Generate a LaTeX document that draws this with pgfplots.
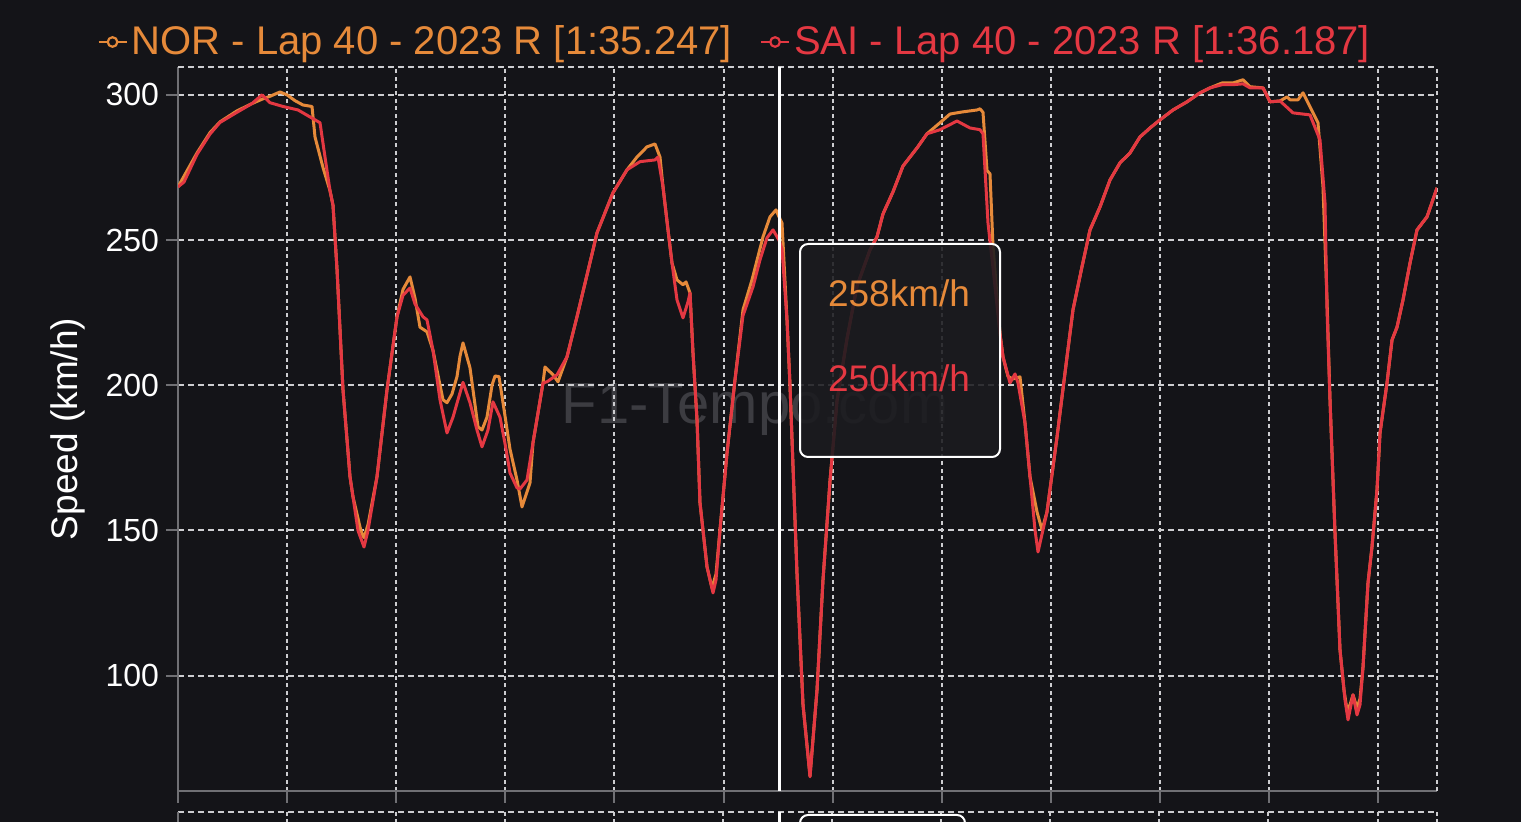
\documentclass[border=0pt]{standalone}
\usepackage{pgfplots}
\pgfplotsset{compat=1.18}
\usepackage{pgfplotstable}
\usepackage{fontspec}
\setmainfont{Liberation Sans}
\definecolor{bg}{RGB}{20,20,24}
\definecolor{tipbg}{RGB}{27,27,31}
\definecolor{norc}{RGB}{230,138,58}
\definecolor{saic}{RGB}{228,56,66}
\definecolor{gridc}{RGB}{205,205,208}
\definecolor{axc}{RGB}{112,112,116}
\definecolor{wm}{RGB}{60,60,65}

\pgfplotstableread{
d v
0 268.3
27.5 272
87.1 280
146.7 287
192.5 290.7
270.4 294.5
339.1 297
385.0 298.5
421.6 299.5
467.5 301
499.5 300
536.2 298
572.9 296.5
614.1 296
627.9 285.5
664.5 275
696.6 267
710.4 262
728.7 240
756.2 198.4
788.3 168.5
802.0 161.6
834.1 151.2
843.3 149
852.4 147.5
870.8 152
912.0 168.5
957.8 198.4
1003.7 223.6
1031.2 233
1063.3 237.3
1086.2 230
1109.1 220
1141.2 218.4
1168.7 212
1214.5 195
1232.8 194
1255.7 197
1278.7 203
1292.4 210
1306.2 214.6
1338.2 206
1352.0 198.4
1374.9 185.7
1393.2 184.6
1416.1 189
1439.1 200
1452.8 203.2
1471.1 203
1489.5 194
1521.6 178
1553.6 167.4
1576.6 158.1
1613.2 166.4
1627.0 180.2
1672.8 200.8
1682.0 206.3
1718.6 203.6
1741.5 201.2
1782.8 209.8
1828.6 223.6
1901.9 246.6
1920.3 252.5
1993.6 266.3
2057.8 274.2
2103.6 278.6
2149.4 282.1
2186.1 283.1
2209.0 278.6
2222.8 268.3
2245.7 253.5
2264.0 242.1
2286.9 236.3
2314.4 234.6
2328.2 235.6
2346.5 231.8
2360.2 211.2
2378.6 188.1
2392.3 159.5
2424.4 137.5
2447.3 130.2
2465.7 135
2484.0 150.2
2516.1 176.7
2552.7 201.9
2589.4 226
2630.6 236.3
2681.1 251.1
2713.1 258
2740.6 260.4
2754.4 258
2768.1 255.9
2791.0 222.5
2804.8 200
2836.9 135
2864.4 90
2896.5 65.5
2928.5 95
2956.0 133
2988.1 167
3020.2 194.6
3066.0 216
3111.9 234.2
3171.4 246.6
3203.5 251.1
3231.0 259
3276.8 266.6
3322.7 275.5
3386.8 281.7
3432.7 286.6
3492.2 290.4
3538.1 293.4
3593.1 294.1
3661.8 294.8
3675.6 295.2
3689.3 294
3707.6 274
3721.4 272.8
3735.1 248
3767.2 217.7
3781.0 209.8
3803.9 203
3826.8 202.2
3858.9 202.9
3881.8 187
3904.7 168.5
3936.8 156.4
3959.7 150.2
3982.6 156.4
4028.5 182.2
4074.3 209.8
4101.8 226
4143.0 240.8
4179.7 253.5
4225.5 261.4
4271.4 270.7
4317.2 276.6
4363.0 280
4408.8 285.5
4454.7 288.6
4500.5 291.4
4560.1 294.8
4624.2 297.6
4683.8 300.7
4729.7 302.4
4784.7 304.1
4835.1 304.1
4880.9 305.2
4913.0 302.8
4972.6 302.4
5004.6 297.6
5050.5 297.9
5082.5 299.3
5096.3 298.3
5133.0 298.3
5155.9 300.7
5224.6 290.4
5247.5 268.3
5265.9 229.4
5279.6 195
5302.5 149.2
5325.4 108.9
5343.8 95
5357.5 88.2
5371.3 90
5385.0 93.4
5403.4 88.9
5417.1 92
5430.9 103
5453.8 132
5472.1 144.4
5495.0 164
5508.8 183.6
5540.8 200.8
5563.8 215.6
5586.7 220
5614.2 229.4
5646.3 242.1
5678.3 253.5
5724.2 258
5770.0 268
}\nor

\pgfplotstableread{
d v
0 268.3
27.5 270
87.1 279.5
146.7 286.5
192.5 290.5
270.4 294
339.1 297
385.0 300
421.6 297.3
481.2 296
550.0 294.8
591.2 293
650.8 290.4
673.7 278.6
696.6 267
710.4 262
728.7 240
756.2 198.4
788.3 168.5
802.0 161.6
824.9 150
852.4 144.3
870.8 150
912.0 168.5
957.8 198.4
1003.7 223.6
1031.2 231
1063.3 233.5
1086.2 228
1122.8 223.6
1141.2 222.5
1168.7 212
1200.7 195
1232.8 183.6
1260.3 189
1283.2 195
1306.2 201
1338.2 194
1370.3 184.6
1393.2 178.8
1420.7 184.6
1443.6 194.3
1475.7 189
1498.6 180
1521.6 169.8
1553.6 164.7
1567.4 164.3
1599.5 167.4
1627.0 180.2
1672.8 200.8
1691.1 201.2
1737.0 203.6
1782.8 209.8
1828.6 223.6
1901.9 246.6
1920.3 252.5
1993.6 266.3
2057.8 274.2
2117.3 277
2186.1 277.6
2199.8 278.6
2222.8 268.3
2245.7 253.5
2264.0 242.1
2286.9 229.4
2314.4 223.2
2337.3 228.7
2346.5 231.8
2360.2 211.2
2378.6 188.1
2392.3 159.5
2424.4 137.5
2451.9 128.5
2465.7 133
2484.0 150.2
2516.1 176.7
2552.7 201.9
2589.4 224
2635.2 233.9
2667.3 243.2
2699.4 250.8
2726.9 253.5
2754.4 250
2768.1 247
2791.0 222.5
2804.8 200
2836.9 135
2864.4 90
2896.5 65.2
2928.5 95
2956.0 133
2988.1 167
3020.2 194.6
3066.0 216
3111.9 234.2
3171.4 246.6
3203.5 251.1
3231.0 259
3276.8 266.6
3322.7 275.5
3386.8 281.7
3432.7 286.6
3492.2 288
3570.2 291
3629.7 288.6
3675.6 288
3689.3 286.6
3712.2 255.9
3735.1 240.4
3767.2 217.7
3781.0 209.8
3813.1 200.8
3835.9 203.9
3849.7 200.8
3881.8 187
3904.7 168.5
3927.6 150.2
3941.4 142.6
3982.6 156.4
4028.5 182.2
4074.3 209.8
4101.8 226
4143.0 240.8
4179.7 253.5
4225.5 261.4
4271.4 270.7
4317.2 276.6
4363.0 280
4408.8 285.5
4454.7 288.6
4500.5 291.4
4560.1 294.8
4624.2 297.6
4683.8 300.7
4729.7 302.4
4784.7 303.5
4835.1 303.5
4880.9 303.8
4913.0 302.4
4972.6 302.4
5004.6 297.6
5050.5 297.9
5110.0 293.8
5187.9 293.1
5233.8 284.5
5256.7 262.8
5265.9 226
5279.6 195
5302.5 149.2
5325.4 108.9
5348.3 91.7
5362.1 84.8
5385.0 93.4
5403.4 86.5
5417.1 90
5430.9 103
5453.8 132
5472.1 144.4
5495.0 164
5508.8 183.6
5540.8 200.8
5563.8 215.6
5586.7 220
5614.2 229.4
5646.3 242.1
5678.3 253.5
5724.2 258
5770.0 268
}\sai

\begin{document}
\begin{tikzpicture}
% background and watermark (pixel units: 1px = 0.5pt)
\begin{scope}[x=0.5pt,y=0.5pt]
\fill[bg] (0,0) rectangle (1521,822);
\node[wm, font=\fontsize{29pt}{34pt}\selectfont] at (755,412) {F1-Tempo.com};
\end{scope}

\begin{axis}[
  at={(89pt,15.5pt)}, anchor=south west,
  scale only axis, width=629.5pt, height=362pt,
  xmin=0, xmax=5770, ymin=60.3, ymax=309.6,
  axis lines*=left,
  axis line style={axc, line width=1pt, -},
  xtick={0,500,...,5500}, xticklabels={},
  ytick={100,150,200,250,300},
  tick align=outside, major tick length=6pt,
  tick style={axc, line width=1pt},
  grid=major,
  x grid style={gridc, line width=1pt, dash pattern=on 2pt off 1.7pt},
  y grid style={gridc, line width=1pt, dash pattern=on 3pt off 2pt},
  /pgf/number format/assume math mode=true,
  yticklabel style={white, font=\fontsize{16pt}{19pt}\selectfont},
  ylabel={Speed (km/h)},
  ylabel style={white, font=\fontsize{18.5pt}{22pt}\selectfont, at={(axis description cs:-0.0874,0.5)}, anchor=center},
  clip mode=individual,
  legend columns=2,
  legend style={at={(-0.0643,1.0345)}, anchor=west, draw=none, fill=none, inner sep=0pt,
    font=\fontsize{20pt}{24pt}\selectfont,
    /tikz/every even column/.append style={column sep=12pt}},
  legend cell align=left,
  legend image code/.code={\draw[#1,line width=1.1pt] (0pt,0pt)--(14pt,0pt); \draw[#1,line width=1.1pt,fill=bg] (7pt,0pt) circle (2.4pt);},
]
\draw[gridc, line width=1pt, dash pattern=on 3pt off 2pt] (rel axis cs:0,1) -- (rel axis cs:1,1);
\draw[gridc, line width=1pt, dash pattern=on 2pt off 1.7pt] (rel axis cs:1,0) -- (rel axis cs:1,1);
\addplot[norc, line width=1.5pt, line join=round, no marks] table[x=d,y=v] {\nor};
\addlegendentry{\textcolor{norc}{NOR - Lap 40 - 2023 R [1:35.247]}}
\addplot[saic, line width=1.5pt, line join=round, no marks] table[x=d,y=v] {\sai};
\addlegendentry{\textcolor{saic}{SAI - Lap 40 - 2023 R [1:36.187]}}
\draw[white, line width=1.5pt] (axis cs:2754.4,60.3) -- (axis cs:2754.4,309.6);
\end{axis}

\begin{scope}[x=0.5pt,y=0.5pt]
% tooltip
\draw[white, line width=1pt, fill=tipbg, fill opacity=0.88, rounded corners=4pt] (800,365) rectangle (1000,578);
\node[norc, font=\fontsize{18.5pt}{22pt}\selectfont] at (899,529) {258km/h};
\node[saic, font=\fontsize{18.5pt}{22pt}\selectfont] at (899,444) {250km/h};
% top of the next (cropped) chart
\draw[gridc, line width=1pt, dash pattern=on 3pt off 2pt] (178,10) -- (1437,10);
\foreach \xx in {287,396,505,614,723,832,941,1050,1159,1268,1378,1437}
  \draw[gridc, line width=1pt, dash pattern=on 2pt off 1.7pt] (\xx,10) -- (\xx,0);
\draw[axc, line width=1pt] (178,10) -- (178,0);
\draw[white, line width=1.5pt] (779,10) -- (779,0);
\draw[white, line width=1pt, rounded corners=4pt] (800,-20) -- (800,7) -- (965,7) -- (965,-20);
\end{scope}

\pgfresetboundingbox
\useasboundingbox (0,0) rectangle (760.5pt,411pt);
\end{tikzpicture}
\end{document}
